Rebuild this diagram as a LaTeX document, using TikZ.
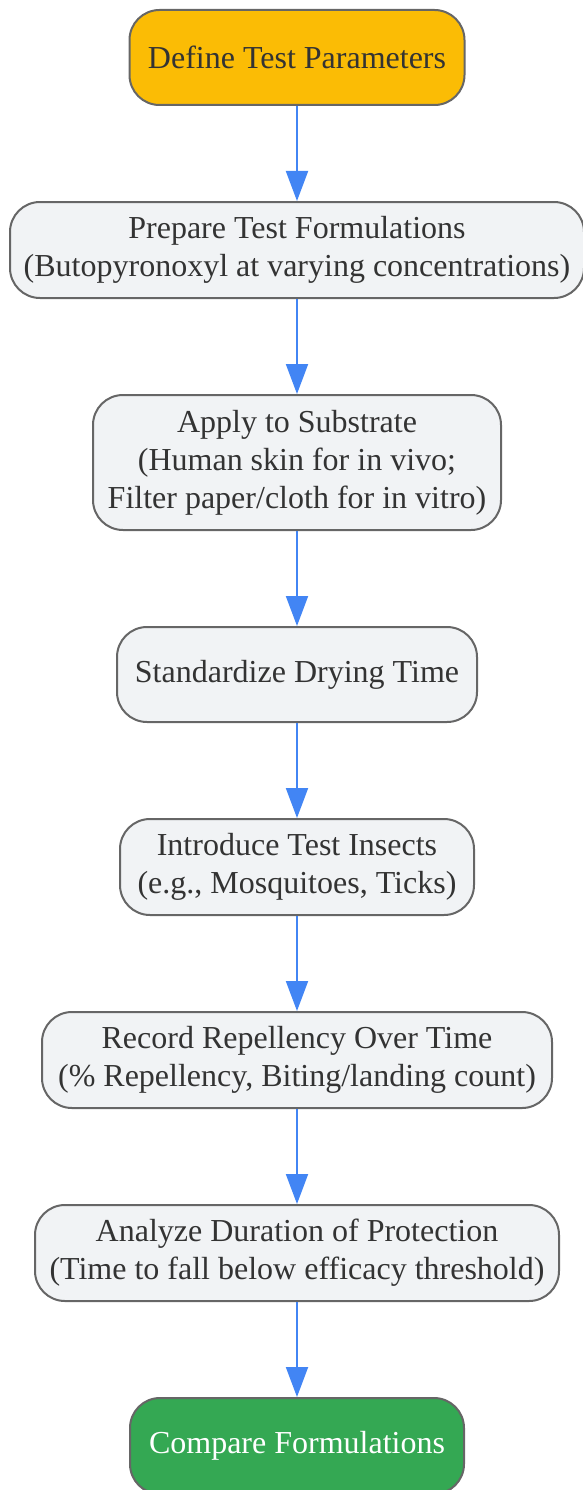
\documentclass[tikz,border=0pt]{standalone}
\usepackage{fontspec}
\setmainfont{Liberation Serif}
\usetikzlibrary{arrows.meta, positioning}
\definecolor{stepfill}{HTML}{F1F3F5}
\definecolor{stepdraw}{HTML}{666666}
\definecolor{startfill}{HTML}{FBBC05}
\definecolor{endfill}{HTML}{34A853}
\definecolor{flowblue}{HTML}{4285F4}
\definecolor{txt}{HTML}{333333}

\begin{document}
\begin{tikzpicture}[x=1pt,y=1pt,node distance=95pt,->,>={Triangle[length=30pt,width=22pt]},line width=2pt]

	\tikzset{node step/.style={rectangle, rounded corners=30pt,
			draw=stepdraw, fill=stepfill, text=txt, align=center,
			font=\fontsize{32}{38}\selectfont, inner sep=0pt,
			minimum height=96pt}}
	\tikzset{node start/.style={node step, fill=startfill}}
	\tikzset{node end/.style={node step, fill=endfill, text=white}}
	\tikzset{flow/.style={color=flowblue, line width=2pt}}

	\useasboundingbox (0,0) rectangle (583,-1490);

	\node[node start, minimum width=335pt, minimum height=95pt] (define) at (297,-57.5) {Define Test Parameters};
	\node[node step, minimum width=574pt, below=of define] (prepare) {Prepare Test Formulations\\(Butopyronoxyl at varying concentrations)};
	\node[node step, minimum width=408pt, minimum height=135pt, below=of prepare] (apply) {Apply to Substrate\\(Human skin for in vivo;\\Filter paper/cloth for in vitro)};
	\node[node step, minimum width=360pt, minimum height=95pt, below=of apply] (dry) {Standardize Drying Time};
	\node[node step, minimum width=354pt, below=of dry] (insects) {Introduce Test Insects\\(e.g., Mosquitoes, Ticks)};
	\node[node step, minimum width=510pt, below=of insects] (record) {Record Repellency Over Time\\(\% Repellency, Biting/landing count)};
	\node[node step, minimum width=524pt, below=of record] (analyze) {Analyze Duration of Protection\\(Time to fall below efficacy threshold)};
	\node[node end, minimum width=334pt, below=of analyze] (compare) {Compare Formulations};

	\draw[flow]
	(define) edge (prepare)
	(prepare) edge (apply)
	(apply) edge (dry)
	(dry) edge (insects)
	(insects) edge (record)
	(record) edge (analyze)
	(analyze) edge (compare);
\end{tikzpicture}
\end{document}
